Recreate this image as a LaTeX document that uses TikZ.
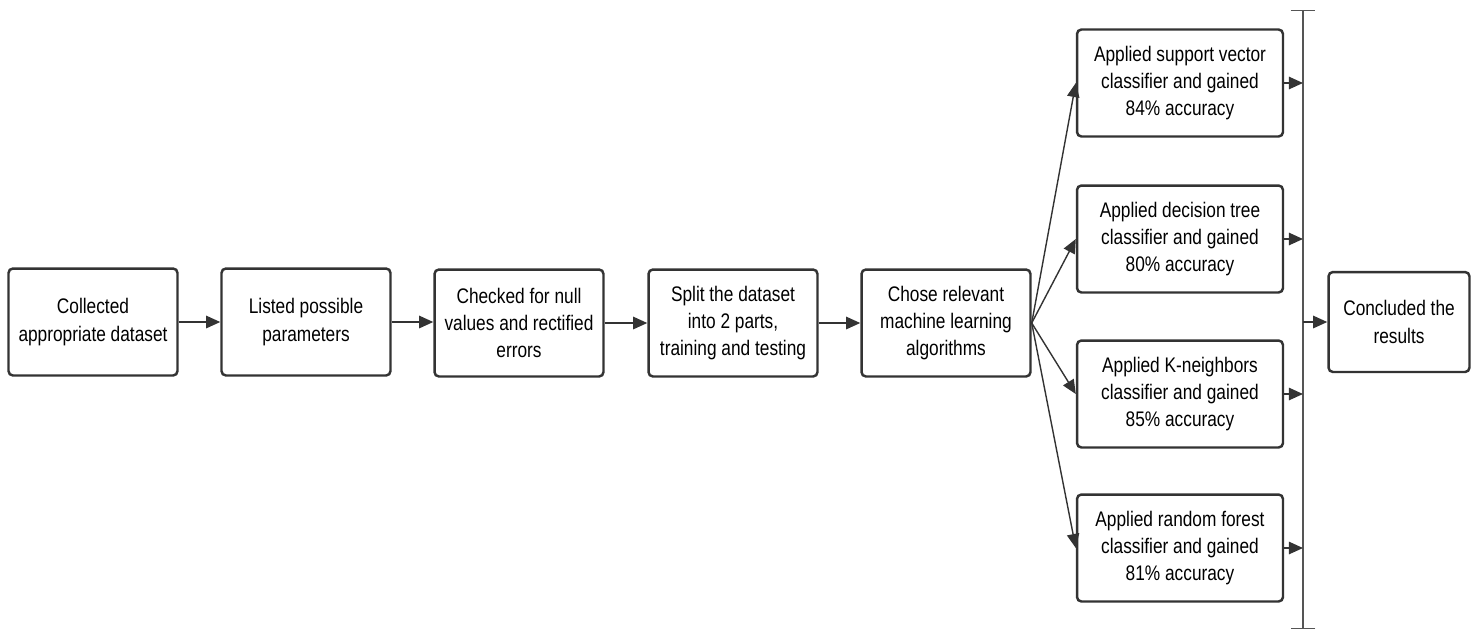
\documentclass[tikz,border=0pt]{standalone}
\usepackage{fontspec}
\setmainfont{Liberation Sans}[FakeStretch=0.82]
\usepackage{tikz}
\usetikzlibrary{arrows.meta}

\definecolor{edgegray}{HTML}{333333}
\definecolor{bargray}{HTML}{555555}

\tikzset{
  stepbox/.style={draw=edgegray, line width=1.4pt, rounded corners=2.5pt, fill=white,
    align=center, font=\fontsize{12}{15.5}\selectfont, inner sep=2pt,
    minimum height=2.14cm},
  flow/.style={draw=edgegray, line width=1pt, -{Triangle[length=8pt,width=7pt]}},
}

\begin{document}
\begin{tikzpicture}[x=0.02cm,y=-0.02cm]
    \useasboundingbox (0,0) rectangle (1477,630);

    % Main chain of steps
    \node[stepbox, minimum width=3.38cm] (collect) at (93,322) {Collected\\appropriate dataset};
    \node[stepbox, minimum width=3.38cm] (params) at (306,322) {Listed possible\\parameters};
    \node[stepbox, minimum width=3.38cm] (nullchk) at (519,323) {Checked for null\\values and rectified\\errors};
    \node[stepbox, minimum width=3.38cm] (split) at (733,323) {Split the dataset\\into 2 parts,\\training and testing};
    \node[stepbox, minimum width=3.38cm] (choose) at (946,323) {Chose relevant\\machine learning\\algorithms};

    % The four classifiers
    \node[stepbox, minimum width=4.12cm] (svc) at (1180,83) {Applied support vector\\classifier and gained\\84\% accuracy};
    \node[stepbox, minimum width=4.12cm] (dtree) at (1180,239) {Applied decision tree\\classifier and gained\\80\% accuracy};
    \node[stepbox, minimum width=4.12cm] (knn) at (1180,394) {Applied K-neighbors\\classifier and gained\\85\% accuracy};
    \node[stepbox, minimum width=4.12cm] (rforest) at (1180,548) {Applied random forest\\classifier and gained\\81\% accuracy};

    % Result
    \node[stepbox, minimum width=2.82cm, minimum height=2.0cm] (conclude) at (1399,322) {Concluded the\\results};

    % Collecting bar
    \coordinate (bartop) at (1303,10);
    \coordinate (barbot) at (1303,629);
    \draw[draw=bargray, line width=0.7pt, {Bar[width=14pt]}-{Bar[width=14pt]}] (bartop) -- (barbot);

    % Connectors
    \draw[flow] (collect) -- (params);
    \draw[flow] (params.east) -- (params.east -| nullchk.west);
    \draw[flow] (nullchk) -- (split);
    \draw[flow] (split) -- (choose);
    \foreach \m in {svc,dtree,knn,rforest} {
        \draw[flow, line width=0.8pt] (choose.east) -- (\m.west);
        \draw[flow] (\m.east) -- (\m.east -| bartop);
    }
    \draw[flow] (conclude.west -| bartop) -- (conclude.west);
\end{tikzpicture}
\end{document}
